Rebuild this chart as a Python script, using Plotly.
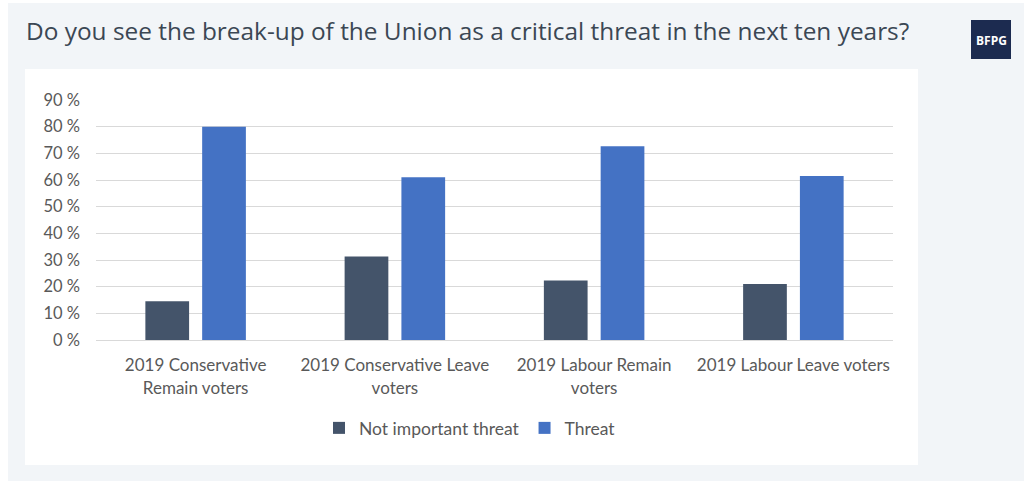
import plotly.graph_objects as go

categories = ["2019 Conservative<br>Remain voters", "2019 Conservative Leave<br>voters",
              "2019 Labour Remain<br>voters", "2019 Labour Leave voters"]
not_important = [14.5, 31.3, 22.3, 21.0]
threat = [80.0, 61.0, 72.7, 61.5]
y_ticks = [0, 10, 20, 30, 40, 50, 60, 70, 80, 90]
y_tick_labels = [f"{v} %" for v in y_ticks]

W, H = 1024, 481
L, R, T, B = 96, 893, 100, 340

def px_x(p):
    return (p - L) / (R - L)

def px_y(p):
    return (B - p) / (B - T)

fig = go.Figure()
fig.add_trace(go.Bar(name="Not important threat", x=categories, y=not_important,
                     marker=dict(color="#44546A", line=dict(width=0))))
fig.add_trace(go.Bar(name="Threat", x=categories, y=threat,
                     marker=dict(color="#4472C4", line=dict(width=0))))

font_axis = "Lato, 'Open Sans', sans-serif"

fig.update_layout(
    width=W, height=H,
    margin=dict(l=L, r=W - R, t=T, b=H - B, pad=0),
    paper_bgcolor="white",
    plot_bgcolor="rgba(0,0,0,0)",
    barmode="group",
    bargap=0.43,
    bargroupgap=0.23,
    showlegend=True,
    legend=dict(orientation="h", x=px_x(470), xanchor="center", y=px_y(428), yanchor="middle",
                font=dict(family=font_axis, size=17.5, color="#595959"),
                bgcolor="rgba(0,0,0,0)", itemwidth=30, traceorder="normal"),
    xaxis=dict(showgrid=False, showline=True, linecolor="#d9d9d9", linewidth=1,
               ticks="", tickfont=dict(family=font_axis, size=17, color="#595959"),
               ticklabelstandoff=10, fixedrange=True),
    yaxis=dict(range=[0, 90], tickvals=y_ticks, ticktext=y_tick_labels,
               showgrid=True, gridcolor="#d9d9d9", gridwidth=1, zeroline=False,
               showline=False, ticks="",
               tickfont=dict(family=font_axis, size=16.5, color="#595959"),
               ticklabelstandoff=15, fixedrange=True),
    shapes=[
        dict(type="rect", xref="paper", yref="paper", layer="below",
             x0=px_x(8), x1=px_x(1030), y0=px_y(490), y1=px_y(3),
             fillcolor="#F2F5F8", line=dict(width=0)),
        dict(type="rect", xref="paper", yref="paper", layer="below",
             x0=px_x(25), x1=px_x(918), y0=px_y(465), y1=px_y(69),
             fillcolor="white", line=dict(width=0)),
        dict(type="rect", xref="paper", yref="paper", layer="above",
             x0=px_x(971), x1=px_x(1011), y0=px_y(59), y1=px_y(20),
             fillcolor="#1C2B50", line=dict(width=0)),
    ],
    annotations=[
        dict(text="Do you see the break-up of the Union as a critical threat in the next ten years?",
             xref="paper", yref="paper", x=px_x(24), y=px_y(31), xanchor="left", yanchor="middle",
             showarrow=False, font=dict(family="'Open Sans', sans-serif", size=24.4, color="#3B4754")),
        dict(text="<b>BFPG</b>", xref="paper", yref="paper", x=px_x(991), y=px_y(40),
             xanchor="center", yanchor="middle", showarrow=False,
             font=dict(family="'Open Sans', sans-serif", size=12, color="white")),
    ],
)

fig.write_html("out.html", config={"displayModeBar": False},
               post_script="document.body.style.margin='0';")
